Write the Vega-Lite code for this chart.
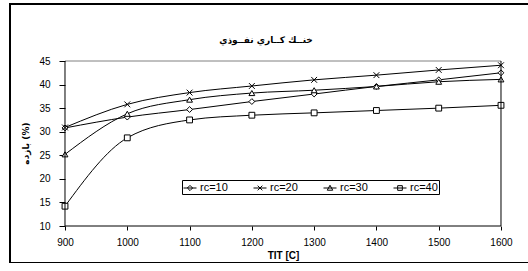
{
  "$schema": "https://vega.github.io/schema/vega-lite/v6.json",
  "width": 520,
  "height": 259,
  "autosize": {"type": "none"},
  "padding": {"left": 10, "top": 4, "right": 0, "bottom": 0},
  "background": "white",
  "title": {"text": "خنــك كــاري نفــوذي", "orient": "top", "anchor": "middle", "frame": "group", "offset": -41, "font": "DejaVu Sans", "fontSize": 9, "fontWeight": "bold", "color": "black", "dx": -4},
  "data": {"values": [
    {"T": 900, "series": "rc=10", "eff": 30.8},
    {"T": 1000, "series": "rc=10", "eff": 33.1},
    {"T": 1100, "series": "rc=10", "eff": 34.7},
    {"T": 1200, "series": "rc=10", "eff": 36.4},
    {"T": 1300, "series": "rc=10", "eff": 38.0},
    {"T": 1400, "series": "rc=10", "eff": 39.6},
    {"T": 1500, "series": "rc=10", "eff": 41.0},
    {"T": 1600, "series": "rc=10", "eff": 42.5},
    {"T": 900, "series": "rc=20", "eff": 30.9},
    {"T": 1000, "series": "rc=20", "eff": 35.8},
    {"T": 1100, "series": "rc=20", "eff": 38.3},
    {"T": 1200, "series": "rc=20", "eff": 39.7},
    {"T": 1300, "series": "rc=20", "eff": 41.0},
    {"T": 1400, "series": "rc=20", "eff": 42.0},
    {"T": 1500, "series": "rc=20", "eff": 43.1},
    {"T": 1600, "series": "rc=20", "eff": 44.1},
    {"T": 900, "series": "rc=30", "eff": 25.2},
    {"T": 1000, "series": "rc=30", "eff": 33.8},
    {"T": 1100, "series": "rc=30", "eff": 36.8},
    {"T": 1200, "series": "rc=30", "eff": 38.2},
    {"T": 1300, "series": "rc=30", "eff": 38.8},
    {"T": 1400, "series": "rc=30", "eff": 39.6},
    {"T": 1500, "series": "rc=30", "eff": 40.6},
    {"T": 1600, "series": "rc=30", "eff": 41.1},
    {"T": 900, "series": "rc=40", "eff": 14.2},
    {"T": 1000, "series": "rc=40", "eff": 28.7},
    {"T": 1100, "series": "rc=40", "eff": 32.5},
    {"T": 1200, "series": "rc=40", "eff": 33.5},
    {"T": 1300, "series": "rc=40", "eff": 34.0},
    {"T": 1400, "series": "rc=40", "eff": 34.5},
    {"T": 1500, "series": "rc=40", "eff": 35.0},
    {"T": 1600, "series": "rc=40", "eff": 35.6}
  ]},
  "layer": [
    {
      "mark": {"type": "line", "interpolate": "monotone", "color": "black", "strokeWidth": 1},
      "encoding": {
        "x": {"field": "T", "type": "quantitative", "scale": {"domain": [811.7, 1646.56], "nice": false, "zero": false},
          "axis": {"values": [900, 1000, 1100, 1200, 1300, 1400, 1500, 1600], "tickCount": 20, "format": "d", "labelOverlap": false, "labelBound": false, "offset": -37, "title": "TIT [C]", "titleX": 273, "titleY": 29, "titleBaseline": "middle", "titleAlign": "center", "tickSize": 4, "labelPadding": 7}},
        "y": {"field": "eff", "type": "quantitative", "scale": {"domain": [2.152, 57.091], "nice": false, "zero": false},
          "axis": {"values": [10, 15, 20, 25, 30, 35, 40, 45], "tickCount": 20, "format": "d", "labelOverlap": false, "labelBound": false, "offset": -55, "title": "بازده (%)", "titleFont": "DejaVu Sans", "titleFontSize": 9, "titleX": -40, "titleY": 139, "titleAngle": -90, "titleBaseline": "middle", "titleAlign": "center", "tickSize": 6, "labelPadding": 9}},
        "detail": {"field": "series"}
      }
    },
    {
      "mark": {"type": "point", "filled": true, "fill": "white", "stroke": "black", "strokeWidth": 1, "size": 34, "opacity": 1},
      "encoding": {
        "x": {"field": "T", "type": "quantitative"},
        "y": {"field": "eff", "type": "quantitative"},
        "shape": {"field": "series", "type": "nominal", "legend": null,
          "scale": {"domain": ["rc=10", "rc=20", "rc=30", "rc=40"], "range": ["diamond", "M-1,-1L1,1M-1,1L1,-1", "triangle-up", "square"]}}
      }
    },
    {
      "data": {"values": [{"from": 900, "to": 1600, "lo": 10, "hi": 45}]},
      "layer": [
        {"mark": {"type": "rule", "color": "#808080", "strokeWidth": 1},
         "encoding": {"y": {"field": "hi", "type": "quantitative"}, "x": {"field": "from", "type": "quantitative"}, "x2": {"field": "to"}}},
        {"mark": {"type": "rule", "color": "black", "strokeWidth": 1},
         "encoding": {"y": {"field": "lo", "type": "quantitative"}, "x": {"field": "from", "type": "quantitative"}, "x2": {"field": "to"}}},
        {"mark": {"type": "rule", "color": "black", "strokeWidth": 1},
         "encoding": {"x": {"field": "from", "type": "quantitative"}, "y": {"field": "lo", "type": "quantitative"}, "y2": {"field": "hi"}}},
        {"mark": {"type": "rule", "color": "black", "strokeWidth": 1},
         "encoding": {"x": {"field": "to", "type": "quantitative"}, "y": {"field": "lo", "type": "quantitative"}, "y2": {"field": "hi"}}}
      ]
    },
    {
      "transform": [{"filter": "false"}],
      "mark": {"type": "point", "filled": true, "fill": "white", "stroke": "black", "strokeWidth": 1, "opacity": 1},
      "encoding": {
        "shape": {"field": "series", "type": "nominal",
          "scale": {"domain": ["rc=10", "rc=20", "rc=30", "rc=40"], "range": [
            "M-1,0H1M0,-0.4L0.4,0L0,0.4L-0.4,0Z",
            "M-1,0H1M-0.36,-0.36L0.36,0.36M-0.36,0.36L0.36,-0.36",
            "M-1,0H1M0,-0.42L0.42,0.34L-0.42,0.34Z",
            "M-1,0H1M-0.36,-0.36H0.36V0.36H-0.36Z"
          ]},
          "legend": {"orient": "none", "legendX": 172, "legendY": 176, "direction": "horizontal", "title": null,
            "strokeColor": "black", "fillColor": "white", "padding": 1, "symbolSize": 169, "symbolStrokeWidth": 1,
            "labelFont": "Liberation Sans", "labelFontSize": 11, "labelColor": "black", "labelOffset": 3, "columnPadding": 23}}
      }
    }
  ],
  "resolve": {"scale": {"shape": "independent"}},
  "config": {
    "view": {"stroke": "black", "strokeWidth": 2},
    "axis": {"domain": false, "grid": false, "tickColor": "black", "tickWidth": 1, "labelFont": "Liberation Sans", "labelFontSize": 10, "labelColor": "black", "labelFlush": false, "labelOverlap": false, "titleFont": "Liberation Sans", "titleFontSize": 10, "titleFontWeight": "bold", "titleColor": "black"}
  }
}
